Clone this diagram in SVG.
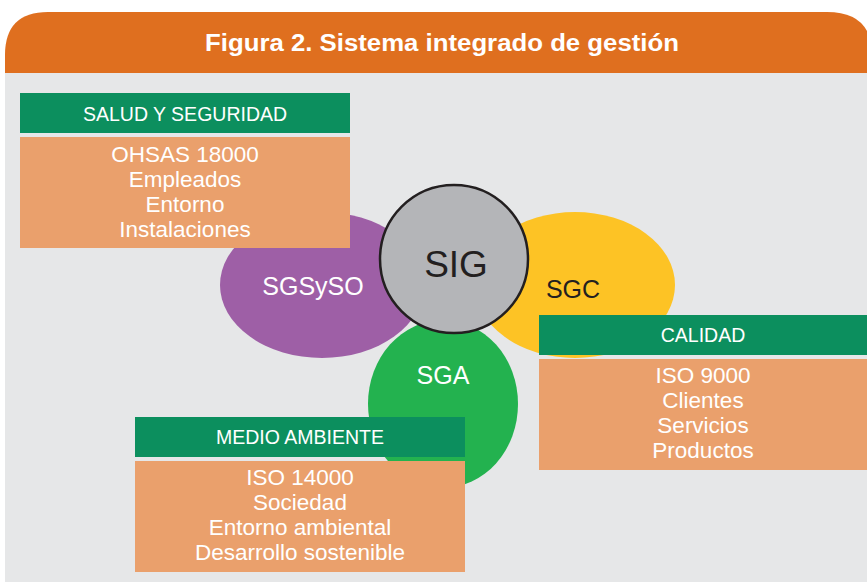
<svg xmlns="http://www.w3.org/2000/svg" width="867" height="582" viewBox="0 0 867 582">
<style>
.hdr{fill:#0C8F5E}
.box{fill:#EAA06C}
.t{font-family:"Liberation Sans",Arial,sans-serif;fill:#fff;text-anchor:middle}
.lab{font-size:19.5px}
.ln{font-size:22.5px}
.big{font-size:25px}
</style>
<rect width="867" height="582" fill="#fff"/>
<rect x="5" y="73" width="862" height="509" fill="#E6E7E8"/>
<path d="M5,73 L5,55 Q5,12 48,12 L827,12 Q872,12 872,55 L872,73 Z" fill="#DF6F1F"/>
<text x="442" y="51" class="t" style="font-size:23px;font-weight:bold" textLength="474" lengthAdjust="spacingAndGlyphs">Figura 2. Sistema integrado de gestión</text>

<g id="sgsyso">
<ellipse cx="322" cy="285" rx="102" ry="73" fill="#9E5FA6"/>
<text x="313" y="295" class="t big">SGSySO</text>
</g>
<g id="sgc">
<ellipse cx="575" cy="285" rx="100" ry="73" fill="#FDC325"/>
<text x="573" y="298" class="t big" style="fill:#231F20">SGC</text>
</g>
<g id="sga">
<ellipse cx="443" cy="404" rx="75" ry="84" fill="#23B24F"/>
<text x="443" y="384" class="t big">SGA</text>
</g>
<g id="sig">
<circle cx="454" cy="259" r="74" fill="#B4B5B8" stroke="#231F20" stroke-width="2.5"/>
<text x="456" y="277" class="t" style="font-size:37px;fill:#231F20">SIG</text>
</g>

<g id="salud">
<rect x="20" y="93" width="330" height="40" class="hdr"/>
<text x="185" y="121" class="t lab">SALUD Y SEGURIDAD</text>
<rect x="20" y="137" width="330" height="111" class="box"/>
<text class="t ln"><tspan x="185" y="162">OHSAS 18000</tspan><tspan x="185" y="187">Empleados</tspan><tspan x="185" y="212">Entorno</tspan><tspan x="185" y="237">Instalaciones</tspan></text>
</g>

<g id="calidad">
<rect x="539" y="315" width="328" height="40" class="hdr"/>
<text x="703" y="342" class="t lab">CALIDAD</text>
<rect x="539" y="359" width="328" height="111" class="box"/>
<text class="t ln"><tspan x="703" y="383">ISO 9000</tspan><tspan x="703" y="408">Clientes</tspan><tspan x="703" y="433">Servicios</tspan><tspan x="703" y="458">Productos</tspan></text>
</g>

<g id="medio">
<rect x="135" y="417" width="330" height="40" class="hdr"/>
<text x="300" y="444" class="t lab">MEDIO AMBIENTE</text>
<rect x="135" y="461" width="330" height="111" class="box"/>
<text class="t ln"><tspan x="300" y="485">ISO 14000</tspan><tspan x="300" y="510">Sociedad</tspan><tspan x="300" y="535">Entorno ambiental</tspan><tspan x="300" y="560">Desarrollo sostenible</tspan></text>
</g>
<g id="connectors"></g>
</svg>
